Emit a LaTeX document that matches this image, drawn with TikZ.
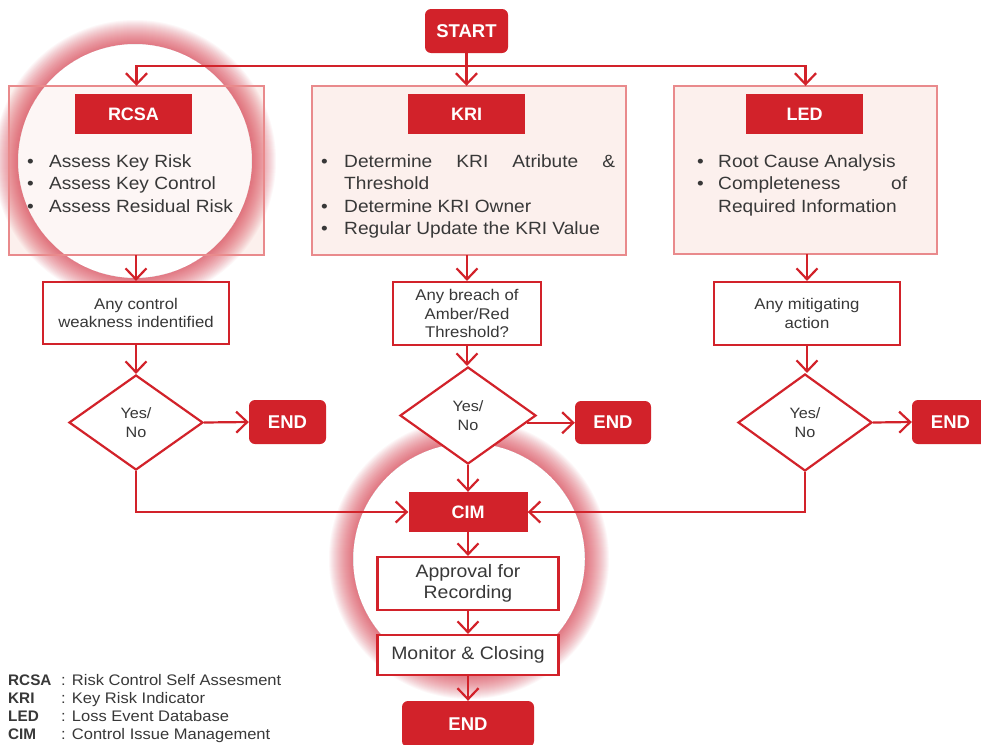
\documentclass[tikz,border=0pt]{standalone}
\usepackage{fontspec}
\setmainfont{Liberation Sans}
\newfontfamily\wide{Liberation Sans}[FakeStretch=1.08]
\usetikzlibrary{shapes.geometric,arrows.meta,calc}
\definecolor{myred}{HTML}{D2222A}
\definecolor{boxline}{HTML}{E98A8C}
\definecolor{boxfill}{HTML}{FCF0ED}
\definecolor{txt}{HTML}{383838}
\definecolor{glowc}{HTML}{D8283A}
\newcommand\bul[1][22pt]{\makebox[#1][l]{\textbullet}}
\newcommand\glowring[2]{%
  \foreach \i in {1,...,24}{%
    \fill[glowc, opacity=0.036, even odd rule] #1 circle ({#2pt+\i pt}) #1 circle ({#2pt});
  }%
}
\tikzset{
 conn/.style={draw=myred, line width=2.2pt},
 arr/.style={conn, -{Straight Barb[length=11pt,width=21pt,line width=2.2pt]}},
 hdr/.style={fill=myred, text=white, font=\fontsize{18}{20}\selectfont\bfseries, minimum width=117pt, minimum height=40pt, inner sep=0},
 term/.style={fill=myred, text=white, rounded corners=6pt, font=\fontsize{18.5}{20}\selectfont\bfseries, inner sep=0},
 bigbox/.style={fill=boxfill, inner sep=0},
 bigline/.style={draw=boxline, line width=2pt},
 qbox/.style={draw=myred, line width=2.2pt, fill=white, text=txt, align=center, inner sep=0, font=\wide\fontsize{15.5}{18.5}\selectfont},
 dec/.style={diamond, draw=myred, line width=2.2pt, fill=white, text=txt, align=center, inner sep=0, font=\wide\fontsize{15}{19}\selectfont},
 list/.style={text=txt, align=left, inner sep=0, anchor=north west, font=\wide\fontsize{17.7}{22.5}\selectfont},
 legk/.style={text=txt, anchor=base west, inner sep=0, font=\fontsize{15.3}{18}\selectfont\bfseries},
 legv/.style={text=txt, anchor=base west, inner sep=0, font=\wide\fontsize{15.3}{18}\selectfont},
}
\begin{document}
\begin{tikzpicture}[x=1pt,y=-1pt]
\useasboundingbox (0,0) rectangle (981,744);
\clip (0,0) rectangle (981,744);
\fill[white] (0,0) rectangle (981,744);

% big boxes (fill)
\node[bigbox, minimum width=255pt, minimum height=169pt] (rcsa) at (136.5,170.5) {};
\node[bigbox, minimum width=314pt, minimum height=169pt] (kri) at (469,170.5) {};
\node[bigbox, minimum width=263pt, minimum height=168pt] (led) at (805.5,170) {};

% glows
\glowring{(135,161)}{117}
\fill[white, opacity=0.45] (135,161) circle (117pt);
\glowring{(469,559)}{116}

% big box borders
\draw[bigline] (rcsa.north west) rectangle (rcsa.south east);
\draw[bigline] (kri.north west) rectangle (kri.south east);
\draw[bigline] (led.north west) rectangle (led.south east);

% start
\node[term, minimum width=83pt, minimum height=44pt] (start) at (466.5,31) {START};

% headers
\node[hdr] (rcsah) at (133.5,114) {RCSA};
\node[hdr] (krih) at (466.5,114) {KRI};
\node[hdr] (ledh) at (804.5,114) {LED};

% lists
\node[list] (rcsat) at (27,154.3) {\bul Assess Key Risk\\\bul Assess Key Control\\\bul Assess Residual Risk};
\node[list] (krit) at (321,154.3) {\bul[23pt]\makebox[271pt][s]{Determine KRI Atribute \&}\\\hspace*{23pt}Threshold\\\bul[23pt]Determine KRI Owner\\\bul[23pt]Regular Update the KRI Value};
\node[list] (ledt) at (697,154.3) {\bul[21pt]Root Cause Analysis\\\bul[21pt]\makebox[189pt][s]{Completeness of}\\\hspace*{21pt}Required Information};

% question boxes
\node[qbox, minimum width=186pt, minimum height=62pt] (q1) at (136,313) {Any control\\weakness indentified};
\node[qbox, minimum width=148pt, minimum height=63pt] (q2) at (467,313.5) {Any breach of\\Amber/Red\\Threshold?};
\node[qbox, minimum width=186pt, minimum height=63pt] (q3) at (807,313.5) {Any mitigating\\action};

% decisions
\node[dec, minimum width=134pt, minimum height=95pt] (d1) at (136,422.5) {Yes/\\No};
\node[dec, minimum width=136pt, minimum height=97pt] (d2) at (468,415.5) {Yes/\\No};
\node[dec, minimum width=134pt, minimum height=97pt] (d3) at (805,422.5) {Yes/\\No};

% ends
\node[term, minimum width=77pt, minimum height=44pt] (e1) at (287.5,422) {END};
\node[term, minimum width=76pt, minimum height=43pt] (e2) at (613,422.5) {END};
\node[term, minimum width=77pt, minimum height=44pt] (e3) at (950.5,422) {END};

% CIM column
\node[hdr, minimum width=119pt] (cim) at (468,512) {CIM};
\node[qbox, minimum width=181pt, minimum height=53pt, font=\wide\fontsize{18}{21}\selectfont] (appr) at (468,583.5) {Approval for\\Recording};
\node[qbox, minimum width=181pt, minimum height=40pt, font=\wide\fontsize{18}{21}\selectfont] (mon) at (468,655) {Monitor \& Closing};
\node[term, minimum width=132pt, minimum height=46pt] (e4) at (468,724) {END};

% legend
\foreach \k/\v [count=\n from 0] in {RCSA/Risk Control Self Assesment, KRI/Key Risk Indicator, LED/Loss Event Database, CIM/Control Issue Management}{
  \node[legk] (lk\n) at (8,685.5+18*\n) {\k};
  \node[legv] (lv\n) at (61,685.5+18*\n) {: \v};
}

% connectors
\coordinate (split) at (466.5,66);
\draw[conn] (start.south) -- (split);
\draw[arr] (split) -| (rcsa.north);
\draw[arr] (split) -| (led.north);
\draw[arr] (split) -- (split |- kri.north);

\draw[arr] (q1.north |- rcsa.south) -- (q1.north);
\draw[arr] (q2.north |- kri.south) -- (q2.north);
\draw[arr] (q3.north |- led.south) -- (q3.north);

\draw[arr] (q1.south) -- (d1.north);
\draw[arr] (q2.south) -- (q2.south |- d2.north);
\draw[arr] (q3.south) -- (q3.south |- d3.north);

\draw[arr] (d1.east) -- (e1.west);
\draw[arr] (d2.-7) -- (d2.-7 -| e2.west);
\draw[arr] (d3.east) -- (e3.west);

\draw[arr] (d1.south) |- (cim.west);
\draw[arr] (d2.south) -- (d2.south |- cim.north);
\draw[arr] (d3.south) |- (cim.east);

\draw[arr] (cim.south) -- (appr.north);
\draw[arr] (appr.south) -- (mon.north);
\draw[arr] (mon.south) -- (e4.north);
\end{tikzpicture}
\end{document}
